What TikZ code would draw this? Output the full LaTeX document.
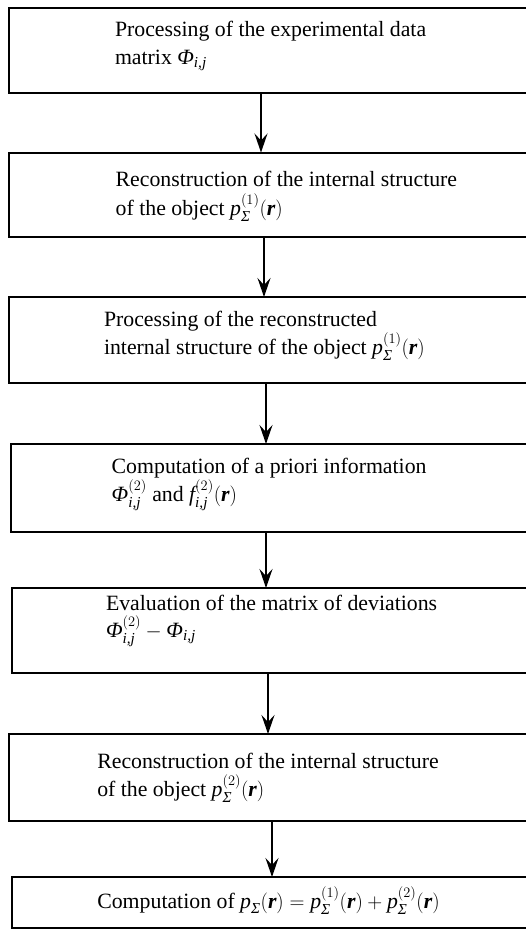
\documentclass[tikz,border=0pt]{standalone}
\usepackage{amsmath}
\usepackage{fontspec}
\setmainfont{Liberation Serif}
\usetikzlibrary{arrows.meta}
\newcommand\mi[1]{\text{\itshape #1}}
\newcommand\vr{\text{\bfseries\itshape r}}
\begin{document}
\begin{tikzpicture}[x=1pt,y=-1pt,
  box/.style={draw, line width=2pt, rectangle, anchor=north west, outer sep=0pt, inner sep=0pt, minimum width=560pt},
  txt/.style={anchor=base west, inner sep=0pt, outer sep=0pt, font=\fontsize{21.8pt}{27.5pt}\selectfont},
  arr/.style={line width=2pt, -{Stealth[length=19pt,width=13pt,inset=7pt]}}]
\useasboundingbox (0,0) rectangle (526,930);
\clip (0,0) rectangle (526,930);
% boxes
\node[box, minimum height=85pt]   (b1) at (9,8) {};
\node[box, minimum height=84.5pt] (b2) at (9,152.5) {};
\node[box, minimum height=86pt]   (b3) at (9,297) {};
\node[box, minimum height=88pt]   (b4) at (11,444) {};
\node[box, minimum height=85pt]   (b5) at (12,588) {};
\node[box, minimum height=87pt]   (b6) at (9,734) {};
\node[box, minimum height=51pt]   (b7) at (12,877) {};
% texts
\node[txt] (t1a) at (115,36.7) {Processing of the experimental data};
\node[txt] (t1b) at (115,64.3) {matrix $\mi{Φ}_{\mi{i,j}}$};
\node[txt] (t2a) at (115.7,186.7) {Reconstruction of the internal structure};
\node[txt] (t2b) at (115.7,215) {of the object $\mi{p}_{\mi{Σ}}^{(1)}(\vr)$};
\node[txt] (t3a) at (104,326) {Processing of the reconstructed};
\node[txt] (t3b) at (104,354.3) {internal structure of the object $\mi{p}_{\mi{Σ}}^{(1)}(\vr)$};
\node[txt] (t4a) at (111.7,473.3) {Computation of a priori information};
\node[txt] (t4b) at (111.7,501.7) {$\mi{Φ}_{\mi{i,j}}^{(2)}$ and $\mi{f}_{\mi{i,j}}^{(2)}(\vr)$};
\node[txt] (t5a) at (106,610) {Evaluation of the matrix of deviations};
\node[txt] (t5b) at (106,637.3) {$\mi{Φ}_{\mi{i,j}}^{(2)} - \mi{Φ}_{\mi{i,j}}$};
\node[txt] (t6a) at (97.3,768.3) {Reconstruction of the internal structure};
\node[txt] (t6b) at (97.3,796) {of the object $\mi{p}_{\mi{Σ}}^{(2)}(\vr)$};
\node[txt] (t7) at (97.3,908.3) {Computation of $\mi{p}_{\mi{Σ}}(\vr) = \mi{p}_{\mi{Σ}}^{(1)}(\vr) + \mi{p}_{\mi{Σ}}^{(2)}(\vr)$};
% arrow columns
\coordinate (a1) at (261,0);
\coordinate (a2) at (264,0);
\coordinate (a3) at (266,0);
\coordinate (a4) at (266,0);
\coordinate (a5) at (268,0);
\coordinate (a6) at (272,0);
% connectors
\draw[arr] (b1.south -| a1) -- (b2.north -| a1);
\draw[arr] (b2.south -| a2) -- (b3.north -| a2);
\draw[arr] (b3.south -| a3) -- (b4.north -| a3);
\draw[arr] (b4.south -| a4) -- (b5.north -| a4);
\draw[arr] (b5.south -| a5) -- (b6.north -| a5);
\draw[arr] (b6.south -| a6) -- (b7.north -| a6);
\end{tikzpicture}
\end{document}
